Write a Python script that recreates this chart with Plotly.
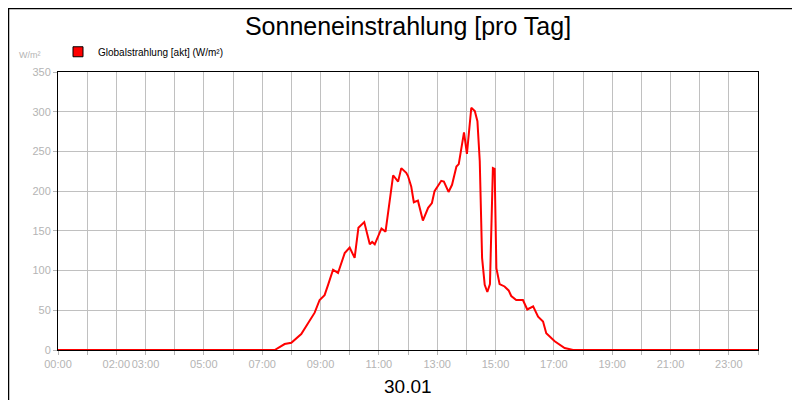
import plotly.graph_objects as go

# hours of day and global radiation (W/m²)
hours = [0, 7.43, 7.77, 8.0, 8.34, 8.63, 8.8, 8.97, 9.14, 9.26, 9.43, 9.6, 9.83, 10.0, 10.17,
         10.3, 10.5, 10.69, 10.77, 10.86, 11.09, 11.23, 11.37, 11.49, 11.66, 11.77, 11.94,
         12.0, 12.11, 12.2, 12.34, 12.51, 12.69, 12.82, 12.91, 13.14, 13.23, 13.39, 13.51,
         13.66, 13.74, 13.92, 14.02, 14.17, 14.29, 14.38, 14.46, 14.54, 14.63, 14.72, 14.81,
         14.91, 14.97, 15.03, 15.14, 15.31, 15.45, 15.54, 15.71, 15.94, 16.09, 16.29, 16.46,
         16.63, 16.74, 17.03, 17.37, 17.66, 24]
radiation = [0, 0, 7.5, 9, 20, 36, 47, 63, 69, 82, 101, 97, 122, 129, 116,
             154, 161, 133, 136, 133, 153, 149, 189, 220, 212, 229, 223,
             219, 206, 186, 188, 163, 179, 185, 200, 213, 212, 199, 208,
             231, 234, 274, 247, 305, 301, 288, 238, 116, 82, 73, 83,
             229, 228, 103, 83, 80, 75, 68, 63, 63, 51, 55, 42,
             36, 21, 11, 2.5, 0, 0]
tick_hours = [0, 2, 3, 5, 7, 9, 11, 13, 15, 17, 19, 21, 23]
tick_labels = ["%02d:00" % h for h in tick_hours]

grey = "#b4b4b4"
fig = go.Figure()
fig.add_trace(go.Scatter(x=hours, y=radiation, mode="lines", showlegend=False,
                         line=dict(color="#ff0000", width=2)))
# legend entry with a square swatch
fig.add_trace(go.Scatter(x=[None], y=[None], mode="markers", name="Globalstrahlung [akt] (W/m²)",
                         marker=dict(symbol="square", size=10, color="#ff0000",
                                     line=dict(color="black", width=1))))

fig.update_layout(
    width=800, height=400, plot_bgcolor="white", paper_bgcolor="white",
    margin=dict(l=50, r=50, t=64, b=58, autoexpand=False),
    font=dict(family="Liberation Sans, Arial", color=grey, size=11),
    title=dict(text="Sonneneinstrahlung [pro Tag]", x=0.5, xanchor="center", y=0.955, yanchor="middle",
               font=dict(size=25, color="black")),
    showlegend=True,
    legend=dict(x=0.0, y=1.125, xref="paper", yref="paper", xanchor="left", yanchor="top",
                font=dict(size=10, color="black"), itemwidth=30, bgcolor="rgba(0,0,0,0)",
                tracegroupgap=0),
    shapes=[dict(type="rect", xref="paper", yref="paper", x0=-49.5 / 700, x1=1 + 49.5 / 700,
                 y0=-57.5 / 278, y1=1 + 63.5 / 278, line=dict(color="black", width=1.5))],
    annotations=[
        dict(text="W/m²", xref="paper", yref="paper", x=-0.021, y=1.061, xanchor="right",
             yanchor="middle", showarrow=False, font=dict(size=9, color=grey)),
        dict(text="30.01", xref="paper", yref="paper", x=0.5, y=-0.13, yanchor="middle",
             showarrow=False, font=dict(size=19, color="black")),
    ],
)
fig.update_xaxes(range=[0, 24], tickvals=tick_hours, ticktext=tick_labels, tickangle=0,
                 showgrid=True, gridcolor="#c0c0c0", ticks="outside", ticklen=4, tickcolor=grey,
                 minor=dict(dtick=1, tick0=0, showgrid=True, gridcolor="#c0c0c0", ticks="outside",
                            ticklen=4, tickcolor=grey),
                 showline=True, linecolor="black", mirror=True, zeroline=False)
fig.update_yaxes(range=[0, 350], dtick=50, showgrid=True, gridcolor="#c0c0c0",
                 ticks="outside", ticklen=4, tickcolor=grey,
                 showline=True, linecolor="black", mirror=True, zeroline=False)

fig.write_html("out.html")
